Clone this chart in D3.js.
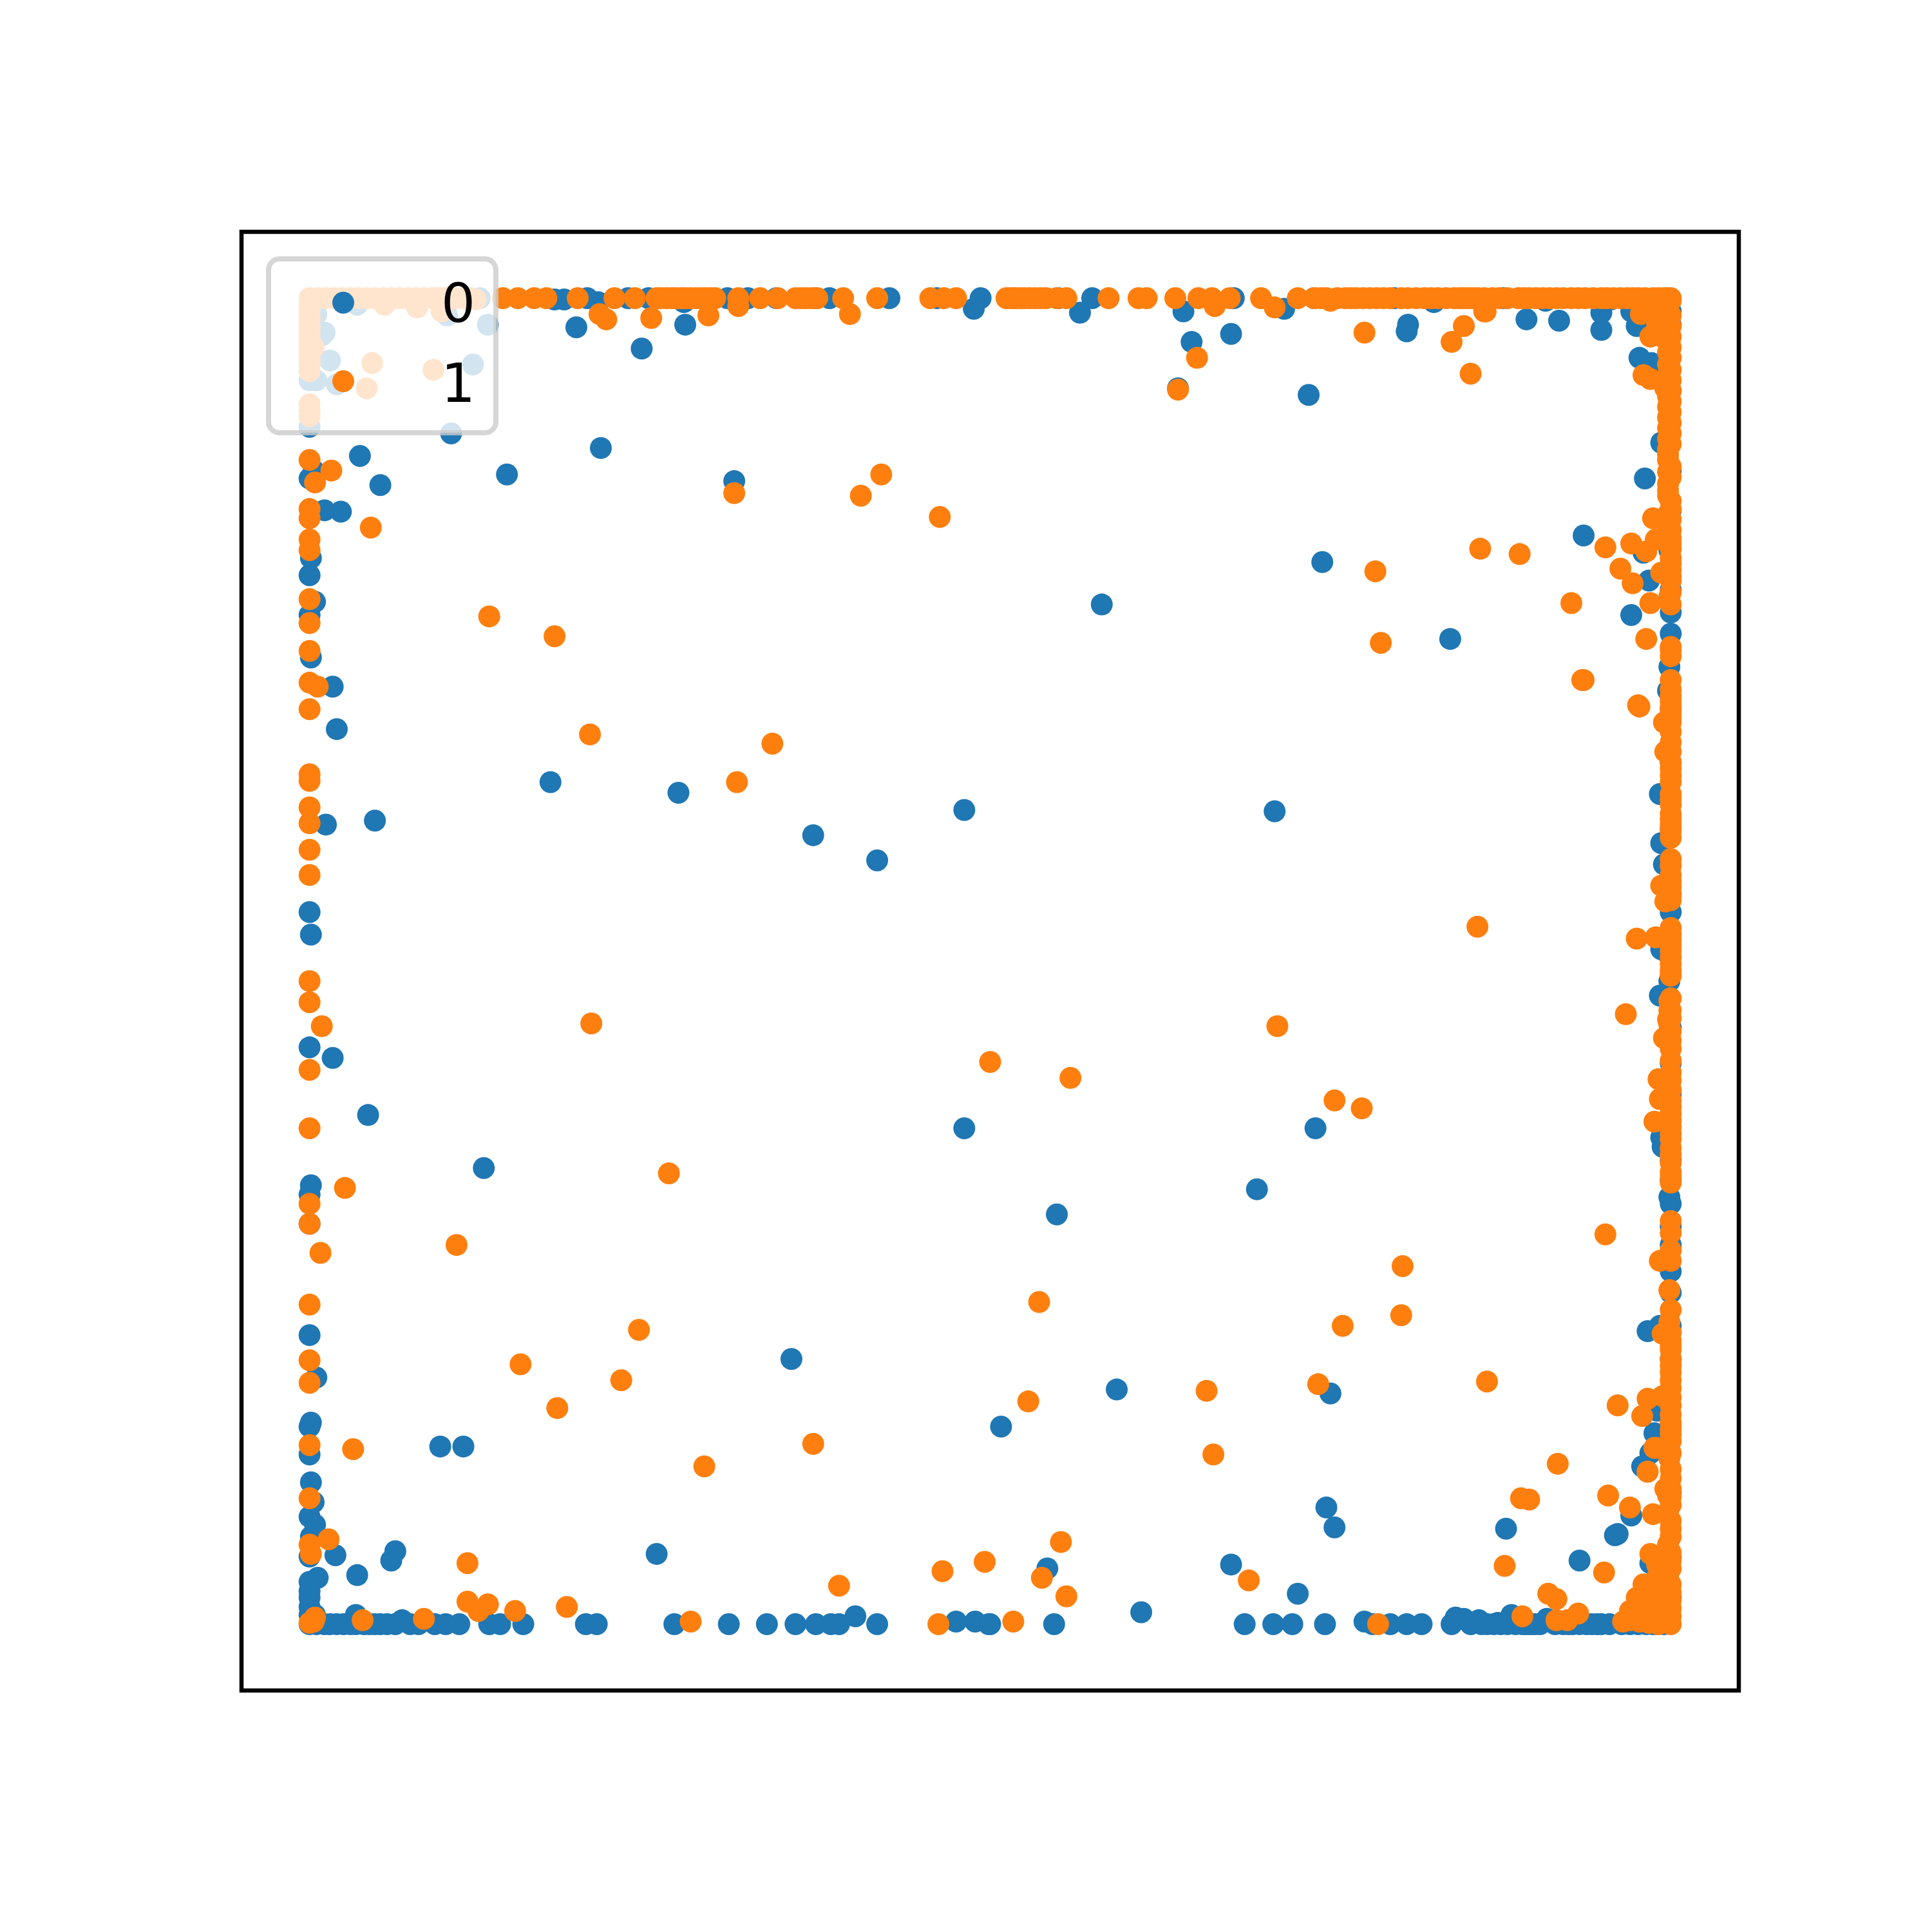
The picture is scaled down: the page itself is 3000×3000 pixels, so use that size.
<!DOCTYPE html>
<html>
<head>
<meta charset="utf-8">
<script src="https://cdn.jsdelivr.net/npm/d3@7/dist/d3.min.js"></script>
<style>html,body{margin:0;padding:0;background:#fff}svg{display:block}</style>
</head>
<body>
<script>
const seriesLabels = ["0", "1"];
const seriesColors = ["#1f77b4", "#ff7f0e"];

const series0 = [
[.131,.980],[.196,.978],[.244,.962],[.276,.980],[.011,.974],[.009,.972],[.015,.953],[.005,.988],[0,.938],[.005,.938],[.020,.935],[.120,.950],[.104,.898],[0,.903],[.125,1],[.095,1],[.035,.995],[.101,.987],
[.037,.881],[.214,.887],[.145,.867],[.052,.859],[.312,.862],[0,.864],[.003,.870],[.011,.840],[.023,.839],[.001,.804],[0,.791],[.004,.771],[0,.761],[.001,.729],[.017,.707],[.020,.675],[.177,.635],[.271,.627],[.048,.606],[.012,.603],[.370,.595],[.417,.576],[.481,.614],[.709,.613],[0,.537],[.001,.520],
[.582,.769],[.744,.801],[.838,.743],[.734,.927],[.638,.932],[.648,.967],[.642,.990],[.677,.973],[.716,.992],[.488,.992],[.566,.989],[.806,.975],[.807,.980],[.894,.984],[.918,.983],[.949,.976],[.949,.989],[.975,.979],[.977,.955],[.986,.951],[.981,.864],[.936,.821],[.980,.808],[.984,.787],[.971,.761],[.993,.891],[.995,.834],[.971,.990],
[1,.763],[1,.747],[.999,.722],[.998,.704],[.992,.626],[.993,.589],[.995,.573],[1,.537],[.993,.509],[.999,.504],[.999,.485],[.992,.474],[1,.423],[.993,.367],[.994,.360],[1,.335],[.999,.322],[1,.317],[1,.286],[1,.266],[1,.225],[.983,.221],[.992,.225],[.990,.161],[.988,.144],[.985,.129],[.979,.119],
[0,.435],[.017,.427],[.043,.384],[.128,.344],[.481,.374],[.739,.374],[.696,.328],[.549,.309],[.001,.331],[0,.324],[0,.302],[0,.218],[.005,.186],[.354,.200],[.593,.177],[.750,.174],[.508,.149],[.096,.134],[.113,.134],[.001,.152],[0,.149],[0,.128],[.001,.107],[.003,.092],[0,.081],[.004,.075],[.001,.066],[0,.051],[.019,.052],[.063,.055],[.060,.048],[.035,.037],[.006,.035],[0,.032],[0,.025],[0,.020],[0,.013],[0,.007],[.004,.007],[.034,.007],[.255,.053],
[.747,.088],[.753,.073],[.879,.072],[.933,.048],[.959,.067],[.961,.068],[.971,.082],[.985,.046],[.987,.022],[.976,.007],[.542,.042],[.677,.045],[.726,.023],[.611,.009],
[0,0],[.005,0],[.011,0],[.015,0],[.020,0],[.025,0],[.030,0],[.034,0],[.040,0],[.044,0],[.048,0],[.052,0],[.057,0],[.063,0],[.068,.003],[.074,0],[.080,0],[.092,0],[.100,0],[.110,0],[.132,0],[.140,0],[.157,0],[.203,0],[.211,0],[.268,0],[.308,0],[.336,0],[.357,0],[.372,0],[.383,0],[.389,0],[.401,.006],[.417,0],[.475,.002],[.489,.002],[.499,0],[.500,0],[.547,0],[.687,0],[.708,0],[.722,0],[.746,0],[.775,.002],[.781,0],[.794,0],[.806,0],[.817,0],[.839,0],[.842,.005],[.848,.004],[.853,0],[.859,.003],[.861,0],[.865,0],[.870,0],[.873,.001],[.875,0],[.880,0],[.883,.007],[.886,0],[.891,0],[.894,0],[.897,0],[.900,0],[.904,0],[.909,.004],[.915,0],[.921,0],[.925,0],[.928,0],[.933,0],[.938,0],[.942,0],[.946,0],[.949,0],[.955,0],[.964,0],[.970,0],[.976,0],[.982,0],[.987,0],[.990,0],[.995,0],
[.180,.999],[.187,.999],[.204,1],[.212,.997],[.234,1],[.249,1],[.275,.997],[.307,1],[.322,1],[.343,1],[.372,1],[.382,1],[.426,1],[.461,1],[.493,1],[.518,1],[.550,1],[.575,1],[.679,1],[.738,1],[.797,1],[.826,.997],[.877,1],[.908,.998],[.956,.999],
[1,.990],[1,.980],[.999,.960],[1,.930],[.999,.900],[1,.870],[1,.840],[.999,.810],[1,.780],[1,.690],[1,.650],[1,.600],[1,.550],[1,.450],[1,.400],[1,.350],[1,.300],[1,.250],[1,.200],[1,.150],[1,.100],[1,.050],[1,.020]
];

const series1 = [
[0,1],[.006,1],[.012,1],[.018,1],[.024,1],[.030,1],[.036,1],[.042,1],[.048,1],[.054,1],[.055,.995],[.06,1],[.066,1],[.072,1],[.078,1],[.079,.993],[.084,1],[.09,1],[.096,1],[.097,.990],[.1,1],[.104,1],[.108,1],[.114,1],[.118,1],[.122,.999],[.142,1],[.153,1],[.165,1],[.174,1],[.197,1],[.224,1],[.239,1],[.255,1],[.258,1],[.262,1],[.266,1],[.269,1],[.273,1],[.276,1],[.280,1],[.284,1],[.288,1],[.291,1],[.295,1],[.298,1],[.315,1],[.331,1],[.344,1],[.357,1],[.361,1],[.365,1],[.369,1],[.373,1],[.392,1],[.417,1],[.456,1],[.466,1],[.475,1],[.512,1],[.515,1],[.518,1],[.522,1],[.525,1],[.529,1],[.533,1],[.537,1],[.541,1],[.549,1],[.556,1],[.587,1],[.609,1],[.615,1],[.636,1],[.653,1],[.663,1],[.676,1],[.699,1],[.726,1],[.738,1],[.743,1],[.747,1],[.750,.998],[.755,1],[.761,1],[.765,1],[.769,1],[.774,1],[.779,1],[.784,1],[.789,1],[.794,1],[.802,1],[.807,1],[.813,1],[.819,1],[.824,1],[.829,1],[.835,1],[.841,1],[.845,1],[.848,1],[.851,1],[.854,1],[.858,1],[.863,1],[.864,.990],[.869,1],[.874,1],[.880,1],[.888,1],[.892,1],[.896,1],[.901,1],[.906,1],[.911,1],[.916,1],[.921,1],[.927,1],[.932,1],[.937,1],[.943,1],[.949,1],[.953,1],[.958,1],[.963,1],[.968,1],[.972,1],[.976,1],[.981,1],[.987,1],[.991,1],[.995,1],[.998,1],[1,1],[.990,.990],[.990,.980],[.995,.970],
[.213,.988],[.218,.984],[.251,.985],[.293,.987],[.315,.994],[.397,.988],[.665,.994],[.709,.993],[.775,.974],[.848,.979],[.839,.967],[.863,.990],[.853,.943],[.652,.955],[.638,.931],
[.046,.951],[.042,.932],[.091,.946],
[0,.995],[0,.992],[0,.988],[0,.985],[0,.982],[0,.978],[0,.975],[0,.972],[0,.969],[0,.966],[0,.963],[.003,.963],[0,.959],[0,.956],[0,.953],[0,.950],[0,.945],[0,.920],[0,.915],[0,.911],
[.978,.988],[.985,.971],[.980,.942],[.985,.939],[.996,.932],[.987,.834],[1,.998],[1,.987],[1,.979],[1,.971],[1,.963],[1,.955],[1,.946],[1,.938],[1,.930],[1,.922],[1,.914],[1,.906],[1,.898],[1,.890],[.998,.882],[1,.873],[1,.865],[.998,.855],[1,.847],[1,.841],[1,.833],[1,.825],
[.998,.994],[.998,.983],[.998,.975],[.998,.967],[.998,.959],[.998,.950],[.998,.942],[.998,.934],[.998,.926],[.998,.918],[.998,.910],[.998,.902],[.998,.894],[.998,.886],[.998,.878],[.998,.869],[.998,.860],[.998,.851],[.998,.837],[.998,.829],
[1,.819],[1,.815],[1,.811],[1,.804],[1,.800],[1,.795],[1,.790],[1,.787],[1,.778],[.999,.775],[1,.769],[1,.737],[1,.735],[1,.730],[1,.712],[1,.705],[1,.700],[1,.696],[1,.692],[1,.688],[1,.684],[1,.680],[1,.673],[1,.665],[1,.658],[1,.650],[1,.645],[1,.640],[1,.635],[1,.626],[1,.622],[1,.618],[1,.611],[1,.607],[1,.603],[1,.598],[1,.593],[1,.577],[1,.572],[1,.565],[1,.560],[1,.556],[1,.551],[1,.546],[1,.525],[1,.520],[1,.516],[1,.512],[1,.508],[1,.503],[1,.498],[1,.493],[1,.489],[.999,.470],[.999,.463],[.998,.456],
[.952,.812],[.971,.815],[.982,.809],[.989,.818],[.963,.796],[.972,.785],[.993,.793],[.985,.770],[.982,.743],[.935,.712],[.976,.693],[.995,.680],[.996,.658],[.975,.517],[.989,.518],[.993,.557],[.996,.545],[.967,.460],
[1,.490],[1,.472],[1,.463],[1,.457],[.999,.452],[1,.447],[1,.440],[1,.434],[1,.425],[1,.416],[1,.410],[1,.403],[1,.395],[1,.390],[1,.385],[1,.380],[1,.375],[1,.370],[1,.366],[1,.359],[1,.354],[1,.348],[1,.341],[1,.338],[1,.333],[1,.304],[1,.295],[1,.282],[1,.274],[.999,.252],[1,.237],[.999,.228],[1,.220],[1,.214],[1,.210],[1,.207],[1,.200],[1,.195],[1,.190],[1,.184],[1,.178],[1,.171],[1,.165],[1,.158],[1,.152],[1,.147],[1,.143],[1,.138],[1,.129],[.999,.125],[1,.117],[1,.110],[1,.102],[1,.096],[1,.090],[.998,.084],[1,.078],[1,.072],[1,.066],[.998,.060],[1,.054],[1,.048],[1,.042],[.998,.036],[1,.030],[1,.024],[1,.018],[1,.012],[1,.006],
[.995,.442],[.991,.411],[.992,.396],[.988,.379],[.952,.294],[.992,.274],[.994,.219],[.961,.165],[.983,.170],[.994,.172],[.979,.157],[.989,.133],[.983,.115],[.988,.133],[.996,.102],[.998,.097],
[0,.878],[.016,.870],[.004,.861],[0,.841],[0,.834],[0,.818],[0,.810],[0,.773],[0,.755],[0,.734],[0,.710],[.006,.707],[0,.690],[0,.641],[0,.636],[0,.616],[0,.604],[0,.584],[0,.565],[.045,.827],
[0,.485],[0,.469],[.009,.451],[0,.418],[0,.374],[.026,.329],[0,.317],[0,.302],[.008,.280],[0,.241],[0,.199],[0,.182],[0,.135],[.032,.132],[0,.095],[.014,.064],[0,.060],[.001,.053],
[.132,.760],[.180,.745],[.206,.671],[.340,.664],[.314,.635],[.312,.853],[.405,.851],[.420,.867],[.463,.835],[.783,.794],[.787,.740],[.860,.811],[.889,.807],[.927,.770],[.936,.712],[.977,.692],[.858,.526],
[.207,.453],[.500,.424],[.559,.412],[.711,.451],[.753,.395],[.773,.389],[.264,.340],[.108,.286],[.803,.270],[.536,.243],[.802,.233],[.759,.225],[.242,.222],[.155,.196],[.229,.184],[.182,.163],[.865,.183],[.741,.181],[.659,.176],[.528,.168],[.370,.136],[.664,.128],[.290,.119],[.917,.121],[.890,.095],[.896,.094],[.954,.097],[.970,.088],[.987,.083],[.983,.115],
[.465,.040],[.496,.047],[.538,.035],[.552,.062],[.556,.021],[.116,.046],[.389,.029],[.878,.044],[.951,.039],[.690,.033],[.910,.023],[.916,.019],[.985,.053],[.990,.045],[.977,.013],[.985,.021],[.977,.002],[.991,0],[1,0],[.987,.011],[.981,.006],
[.965,.002],[.970,.010],[.975,.020],[.980,.030],[.985,.010],[.992,.012],[.995,.030],[.995,.050],[.992,.020],[.998,.010],[.970,.003],[.984,.001],[.990,.035],
[.116,.017],[.131,.015],[.124,.010],[.151,.010],[.189,.013],[.084,.004],[.039,.003],[.003,.002],[.004,.005],[0,.001],[.280,.002],[.462,0],[.517,.002],[.785,0],[.891,.006],[.916,.003],[.924,.003],[.932,.008]
];

const width = 3000, height = 3000;
const axes = {left: 375, right: 2700, top: 360, bottom: 2625};

const x = d3.scaleLinear().domain([-0.05, 1.05]).range([axes.left, axes.right]);
const y = d3.scaleLinear().domain([-0.05, 1.05]).range([axes.bottom, axes.top]);

const svg = d3.select("body").append("svg")
  .attr("width", width).attr("height", height)
  .attr("viewBox", `0 0 ${width} ${height}`)
  .style("background", "#fff");

const R = 17;
[series0, series1].forEach((data, i) => {
  svg.append("g").selectAll("circle").data(data).join("circle")
    .attr("cx", d => x(d[0]))
    .attr("cy", d => y(d[1]))
    .attr("r", R)
    .attr("fill", seriesColors[i]);
});

svg.append("rect")
  .attr("x", axes.left).attr("y", axes.top)
  .attr("width", axes.right - axes.left).attr("height", axes.bottom - axes.top)
  .attr("fill", "none").attr("stroke", "#000").attr("stroke-width", 6.5);

const legend = svg.append("g");
legend.append("rect")
  .attr("x", 417).attr("y", 402).attr("width", 353).attr("height", 270)
  .attr("rx", 17).attr("ry", 17)
  .attr("fill", "#fff").attr("fill-opacity", 0.8)
  .attr("stroke", "#ccc").attr("stroke-opacity", 0.8).attr("stroke-width", 8);

seriesLabels.forEach((label, i) => {
  const cy = i === 0 ? 470 : 592;
  const base = i === 0 ? 500 : 624;
  legend.append("circle").attr("cx", 533).attr("cy", cy).attr("r", R).attr("fill", seriesColors[i]);
  legend.append("text").attr("x", 685).attr("y", base)
    .attr("font-family", "'DejaVu Sans'").attr("font-size", 83.33).attr("fill", "#000")
    .text(label);
});
</script>
</body>
</html>
